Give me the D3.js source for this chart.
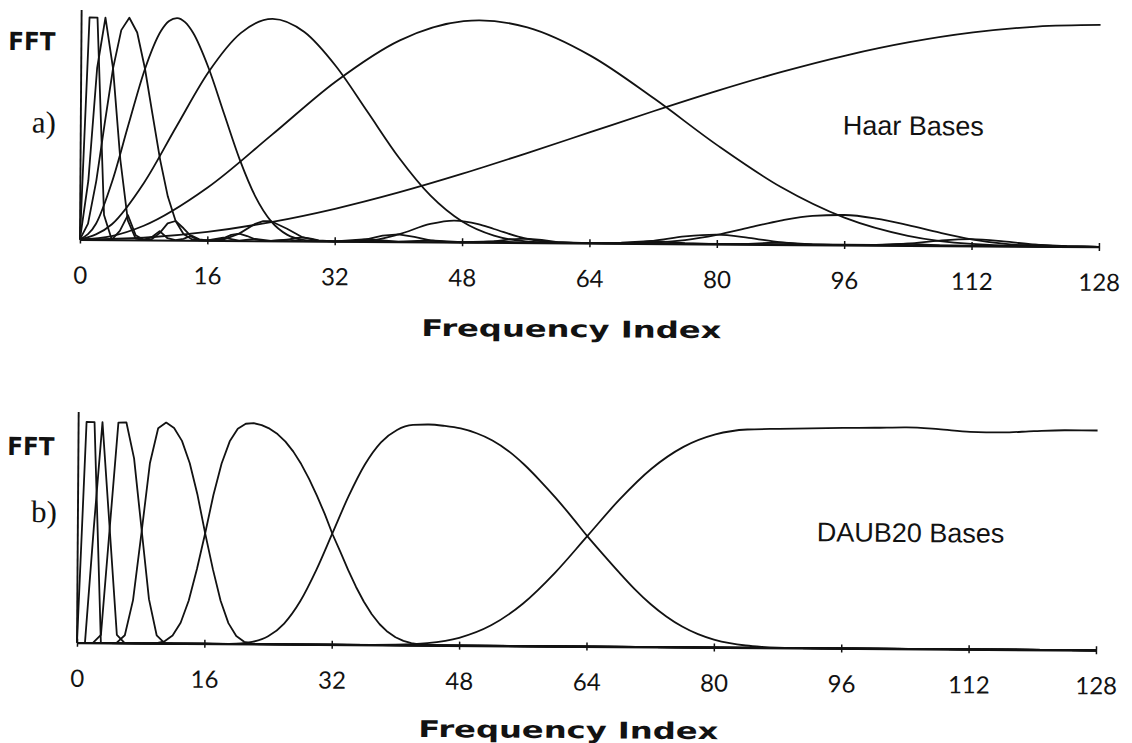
<!DOCTYPE html>
<html>
<head>
<meta charset="utf-8">
<script src="https://cdn.jsdelivr.net/npm/d3@7"></script>
<style>
  html, body { margin: 0; padding: 0; background: #fff; }
  svg { display: block; }
</style>
</head>
<body>
<svg id="chart" width="1132" height="743"></svg>
<script>
// Frequency-index ticks shared by both panels
const freqTicks = [0, 16, 32, 48, 64, 80, 96, 112, 128];

// (a) Haar bases: normalized FFT power of each scale, as [frequency index, power]
const haarScale1 = [[0,0],[8,.0096],[16,.0381],[24,.0843],[32,.1464],[40,.2222],[48,.3087],[56,.4025],[64,.5],[72,.5975],[80,.6913],[88,.7778],[96,.8536],[104,.9157],[112,.9619],[120,.9904],[128,1]];
const haarScale2 = [[0,0],[4,.0162],[8,.0636],[16,.238],[24,.4771],[32,.72],[40,.9074],[48,.9958],[50,1],[56,.97],[64,.8438],[72,.6534],[80,.4447],[88,.2592],[96,.1235],[104,.0439],[112,.0094],[120,.0006],[128,0]];
const haarScale3 = [[0,0],[4,.0695],[8,.2578],[12,.511],[16,.7585],[20,.9348],[24,1],[28,.9415],[32,.7885],[36,.5845],[40,.3786],[44,.2088],[48,.0935],[52,.031],[56,.0062],[60,.0004],[64,0],[68,.0003],[72,.0041],[76,.0171],[80,.0418],[84,.075],[88,.1082],[92,.1307],[96,.1353],[100,.1205],[104,.0919],[108,.0587],[112,.03],[116,.0112],[120,.0025],[124,.0002],[128,0]];
const haarScale4 = [[0,0],[2,.0711],[4,.2632],[6,.5202],[8,.769],[10,.9426],[11,.987],[12,1],[13,.982],[14,.9355],[16,.7764],[18,.5696],[20,.3647],[22,.1986],[24,.0877],[26,.0286],[28,.0056],[30,.0003],[32,0],[36,.0035],[40,.0332],[44,.0815],[47,.0975],[50,.0825],[52,.0607],[56,.0184],[60,.0014],[64,0],[68,.0012],[72,.0124],[76,.0334],[80,.0428],[84,.0293],[88,.0095],[92,.0008],[96,0],[100,.0007],[104,.0081],[108,.0229],[112,.0307],[116,.022],[120,.0075],[124,.0006],[128,0]];
const haarScale5 = [[0,0],[1,.0715],[2,.2645],[3,.5224],[4,.7714],[5,.9442],[6,1],[7,.9338],[8,.7732],[9,.5658],[10,.3612],[11,.196],[12,.0863],[13,.028],[14,.0055],[15,.0003],[16,0],[18,.0033],[20,.0315],[22,.0761],[23,.0886],[24,.0882],[26,.055],[28,.0164],[30,.0012],[32,0],[34,.001],[36,.0102],[38,.0268],[40,.0334],[42,.0223],[44,.007],[46,.0006],[48,0],[50,.0005],[52,.0052],[54,.0143],[56,.0185],[58,.0127],[60,.0041],[62,.0003],[64,0],[68,.0034],[72,.0124],[76,.0029],[80,0],[84,.0025],[88,.0096],[92,.0023],[96,0],[100,.0021],[104,.0081],[108,.002],[112,0],[116,.0019],[120,.0075],[124,.0019],[128,0]];
const haarScale6 = [[0,0],[1,.2647],[2,.7717],[3,1],[4,.7719],[5,.3602],[6,.0859],[7,.0054],[8,0],[9,.0033],[10,.031],[11,.0749],[12,.0862],[13,.0537],[14,.0159],[15,.0012],[16,0],[17,.0009],[18,.0097],[19,.0254],[20,.0315],[21,.0209],[22,.0065],[23,.0005],[24,0],[26,.0047],[27,.0128],[28,.0164],[29,.0112],[30,.0036],[32,0],[36,.0102],[40,0],[44,.007],[48,0],[52,.0052],[56,0],[60,.0041],[64,0],[96,.002],[128,0]];
const haarScale7 = [[0,0],[1,1],[2,1],[3,.111],[4,0],[5,.04],[6,.111],[7,.0205],[8,0],[9,.0124],[10,.0402],[11,.0083],[12,0],[13,.006],[14,.0206],[15,.0045],[16,0],[18,.0125],[20,0],[22,.0085],[24,0],[26,.0061],[28,0],[128,0]];

// (b) DAUB20 bases: normalized FFT power of each level, as [frequency index, power]
const daubLevel1 = [[0,0],[32,0],[36,.0002],[40,.0018],[44,.0099],[48,.0355],[52,.0931],[56,.193],[60,.334],[64,.5],[68,.666],[72,.807],[76,.907],[80,.9645],[84,.988],[88,.992],[92,.995],[96,.998],[100,1],[104,1.003],[108,.996],[112,.985],[116,.983],[120,.99],[124,.995],[128,.995]];
const daubLevel2 = [[0,0],[16,0],[18,.0002],[20,.0018],[22,.01],[24,.0359],[26,.0942],[28,.1953],[30,.338],[32,.5059],[34,.6739],[36,.8166],[38,.9177],[40,.9742],[42,.9973],[44,1],[46,.994],[48,.983],[50,.962],[52,.93],[54,.883],[56,.822],[58,.75],[60,.672],[62,.588],[64,.5],[66,.418],[68,.338],[70,.262],[72,.195],[74,.139],[76,.094],[78,.06],[80,.036],[82,.0198],[84,.01],[86,.0046],[88,.0018],[92,.0002],[96,0],[128,0]];
const daubLevel3 = [[0,0],[8,0],[9,.0002],[10,.0018],[11,.01],[12,.0359],[13,.0942],[14,.1953],[15,.338],[16,.5],[17,.6739],[18,.8166],[19,.9172],[20,.9742],[21,.9973],[22,1],[23,.9918],[24,.9759],[25,.9517],[26,.9176],[27,.8727],[28,.8166],[29,.7499],[30,.6739],[31,.5917],[32,.5],[33,.4201],[34,.338],[35,.262],[36,.1953],[37,.1391],[38,.0942],[39,.0601],[40,.0358],[41,.0198],[42,.01],[43,.0046],[44,.0018],[46,.0002],[48,0],[128,0]];
const daubLevel4 = [[0,0],[4,0],[5,.0018],[6,.0359],[7,.1953],[8,.5],[9,.8166],[10,.9742],[11,1],[12,.9759],[13,.9176],[14,.8166],[15,.6739],[16,.5],[17,.338],[18,.1953],[19,.0942],[20,.0359],[21,.01],[22,.0018],[23,.0002],[24,0],[128,0]];
const daubLevel5 = [[0,0],[2,0],[3,.0368],[4,.5184],[5,.9983],[6,1],[7,.8367],[8,.5184],[9,.2001],[10,.0368],[11,.0018],[12,0],[128,0]];
const daubLevel6 = [[0,0],[1,0],[2,.5184],[3,1],[4,.5184],[5,.0368],[6,0],[128,0]];
const daubLevel7 = [[0,0],[1,1],[2,1],[3,0],[128,0]];

const svg = d3.select("#chart");
svg.append("rect").attr("width", 1132).attr("height", 743).attr("fill", "#fff");

// the printed figure sits slightly tilted on the page
const page = svg.append("g").attr("transform", "rotate(0.42 566 371)");

const ink = "#121212";
const x = d3.scaleLinear().domain([0, 128]).range([79, 1098]);

const panels = [
  {
    series: [
      { data: haarScale1, curve: d3.curveMonotoneX },
      { data: haarScale2, curve: d3.curveMonotoneX },
      { data: haarScale3, curve: d3.curveMonotoneX },
      { data: haarScale4, curve: d3.curveMonotoneX },
      { data: haarScale5, curve: d3.curveLinear },
      { data: haarScale6, curve: d3.curveLinear },
      { data: haarScale7, curve: d3.curveLinear }
    ],
    base: 243, top: 21, axisTop: 13.5,
    tag: "a)", tagX: 30, tagY: 136.5,
    fftX: 6, fftY: 54,
    name: "Haar Bases", nameX: 841, nameY: 132.5,
    xTitleY: 337
  },
  {
    series: [
      { data: daubLevel1, curve: d3.curveMonotoneX },
      { data: daubLevel2, curve: d3.curveMonotoneX },
      { data: daubLevel3, curve: d3.curveLinear },
      { data: daubLevel4, curve: d3.curveLinear },
      { data: daubLevel5, curve: d3.curveLinear },
      { data: daubLevel6, curve: d3.curveLinear },
      { data: daubLevel7, curve: d3.curveLinear }
    ],
    base: 646.4, top: 425.5, axisTop: 415.5,
    tag: "b)", tagX: 32, tagY: 526,
    fftX: 8, fftY: 459,
    name: "DAUB20 Bases", nameX: 818, nameY: 539.5,
    xTitleY: 738
  }
];

panels.forEach(p => {
  const y = d3.scaleLinear().domain([0, 1]).range([p.base, p.top]);
  const g = page.append("g");

  // spectra
  p.series.forEach(s => {
    const line = d3.line()
      .x(d => x(d[0]))
      .y(d => y(d[1]))
      .curve(s.curve);
    g.append("path")
      .datum(s.data)
      .attr("d", line)
      .attr("fill", "none")
      .attr("stroke", ink)
      .attr("stroke-width", 1.8)
      .attr("stroke-linejoin", "round");
  });

  // vertical axis
  g.append("line")
    .attr("x1", x(0)).attr("x2", x(0))
    .attr("y1", p.base).attr("y2", p.axisTop)
    .attr("stroke", ink).attr("stroke-width", 1.9);

  // frequency axis
  const axis = d3.axisBottom(x)
    .tickValues(freqTicks)
    .tickSize(0)
    .tickSizeOuter(0)
    .tickPadding(0)
    .tickFormat(d3.format("d"));
  const ga = g.append("g")
    .attr("transform", `translate(0,${p.base})`)
    .call(axis);
  ga.select(".domain").attr("stroke", ink).attr("stroke-width", 1.9);
  ga.selectAll(".tick line")
    .attr("y1", -4).attr("y2", 4)
    .attr("stroke", ink).attr("stroke-width", 1.5);
  ga.selectAll(".tick text")
    .attr("y", 44).attr("dy", null)
    .attr("font-family", "Lato, 'Open Sans', sans-serif")
    .attr("font-size", 24)
    .attr("fill", ink);

  // axis title
  g.append("text")
    .attr("x", 571).attr("y", p.xTitleY)
    .attr("text-anchor", "middle")
    .attr("font-family", "'DejaVu Sans', sans-serif")
    .attr("font-weight", "bold")
    .attr("font-size", 23)
    .attr("textLength", 300)
    .attr("lengthAdjust", "spacingAndGlyphs")
    .attr("fill", ink)
    .text("Frequency Index");

  // left labels
  g.append("text")
    .attr("x", p.fftX).attr("y", p.fftY)
    .attr("font-family", "'DejaVu Sans', sans-serif")
    .attr("font-weight", "bold")
    .attr("font-size", 25)
    .attr("textLength", 47)
    .attr("lengthAdjust", "spacingAndGlyphs")
    .attr("fill", ink)
    .text("FFT");
  g.append("text")
    .attr("x", p.tagX).attr("y", p.tagY)
    .attr("font-family", "'Liberation Serif', 'Times New Roman', serif")
    .attr("font-size", 31)
    .attr("fill", ink)
    .text(p.tag);

  // basis name
  g.append("text")
    .attr("x", p.nameX).attr("y", p.nameY)
    .attr("font-family", "'Liberation Sans', Arial, sans-serif")
    .attr("font-size", 27)
    .attr("fill", ink)
    .text(p.name);
});
</script>
</body>
</html>
